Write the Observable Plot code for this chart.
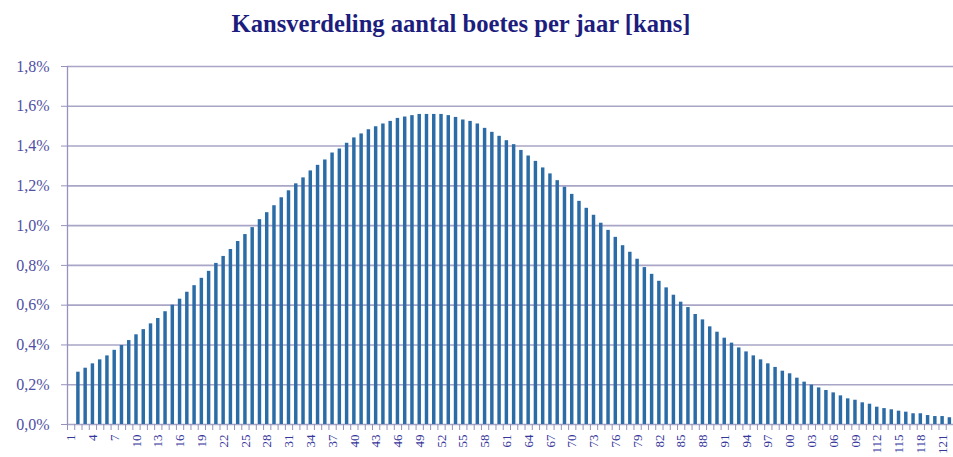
<!DOCTYPE html>
<html>
<head>
<meta charset="utf-8">
<script src="https://cdn.jsdelivr.net/npm/d3@7"></script>
<script src="https://cdn.jsdelivr.net/npm/@observablehq/plot@0.6"></script>
<style>
  html, body { margin: 0; padding: 0; background: #fff; }
  #title {
    width: 953px; height: 45px; box-sizing: border-box;
    padding-top: 12px; padding-right: 31px;
    text-align: center;
    font-family: "Liberation Serif", serif; font-weight: bold;
    font-size: 24.6px; line-height: 24px; color: #1d1d7e;
  }
  #chart svg { display: block; }
</style>
</head>
<body>
<div id="title">Kansverdeling aantal boetes per jaar [kans]</div>
<div id="chart"></div>
<script>
// Category slots (the first slot, labelled "1", carries no bar)
const categories = [
  2,3,4,5,6,7,8,9,10,11,12,13,14,15,16,17,18,19,20,21,22,23,24,25,26,27,28,29,30,31,
  32,33,34,35,36,37,38,39,40,41,42,43,44,45,46,47,48,49,50,51,52,53,54,55,56,57,58,59,60,61,
  62,63,64,65,66,67,68,69,70,71,72,73,74,75,76,77,78,79,80,81,82,83,84,85,86,87,88,89,90,91,
  92,93,94,95,96,97,98,99,100,101,102,103,104,105,106,107,108,109,110,111,112,113,114,115,116,117,118,119,120,121,122
];
// Probability in percent
const values = [
  0.263,0.283,0.305,0.325,0.345,0.373,0.397,0.422,0.451,0.477,0.506,0.533,0.567,0.600,0.630,0.665,0.698,
  0.735,0.770,0.810,0.845,0.880,0.920,0.955,0.990,1.030,1.065,1.100,1.140,1.175,1.210,
  1.240,1.275,1.303,1.330,1.365,1.385,1.414,1.441,1.461,1.482,1.497,1.511,1.524,1.539,1.546,1.553,1.559,
  1.559,1.559,1.559,1.553,1.544,1.531,1.524,1.511,1.489,1.469,1.449,1.427,1.407,1.378,1.350,1.323,1.290,
  1.260,1.226,1.193,1.157,1.122,1.087,1.052,1.012,0.976,0.941,0.899,0.866,0.831,0.789,0.755,0.720,0.687,
  0.650,0.615,0.588,0.553,0.526,0.491,0.464,0.434,0.409,0.385,
  0.365,0.345,0.325,0.305,0.287,
  0.268,0.255,0.233,0.213,0.198,0.184,0.171,0.159,0.144,0.129,0.122,0.109,0.102,0.087,0.080,0.074,
  0.067,0.062,0.054,0.054,0.045,0.040,0.040,0.034
];
const yTicks = [0, 0.2, 0.4, 0.6, 0.8, 1.0, 1.2, 1.4, 1.6, 1.8];
const labelSlots = [1,4,7,10,13,16,19,22,25,28,31,34,37,40,43,46,49,52,55,58,61,64,67,70,73,76,79,82,85,88,91,94,97,100,103,106,109,112,115,118,121];
const tickLabels = ["1","4","7","10","13","16","19","22","25","28","31","34","37","40","43","46","49","52","55","58","61","64","67","70","73","76","79","82","85","88","91","94","97","00","03","06","09","112","115","118","121"];
const boundaries = d3.range(1, 124);

const data = categories.map((c, i) => ({c, v: values[i]}));
const labels = labelSlots.map((s, i) => ({s, t: tickLabels[i]}));

const gridColor = "#a8a5c6";
const axisColor = "#9593bd";

const chart = Plot.plot({
  width: 953,
  height: 412,
  marginTop: 21,
  marginBottom: 33,
  marginLeft: 67,
  marginRight: 0,
  style: {fontFamily: "Liberation Serif, serif", background: "#fff"},
  x: {type: "linear", domain: [1, 123]},
  y: {domain: [0, 1.8]},
  marks: [
    Plot.ruleY(yTicks, {stroke: gridColor, strokeWidth: 1.6}),
    Plot.ruleX([1], {stroke: axisColor, strokeWidth: 1.3}),
    Plot.rectY(data, {x: "c", y: "v", interval: 1, insetLeft: 1.9, insetRight: 1.9, fill: "#2b6ca6"}),
    Plot.axisY({
      ticks: yTicks, tickSize: 6, tickPadding: 12,
      tickFormat: d => d.toFixed(1).replace(".", ",") + "%",
      stroke: axisColor, fill: "#4f4fa3", fontSize: 16, label: null
    }),
    Plot.axisX({
      ticks: boundaries, tickSize: 6, tickFormat: () => "",
      stroke: axisColor, label: null
    }),
    Plot.text(labels, {
      x: d => d.s + 0.5, y: 0, text: "t",
      rotate: -90, textAnchor: "end", lineAnchor: "middle", dy: 10,
      fill: "#35359a", fontSize: 13, ariaLabel: "x-labels"
    })
  ]
});
// make sure the category labels read bottom-to-top as in the reference
d3.select(chart).selectAll('g[aria-label="x-labels"] text').each(function () {
  const t = this.getAttribute("transform") || "";
  if (!/rotate/.test(t)) this.setAttribute("transform", t + " rotate(-90)");
});
document.getElementById("chart").appendChild(chart);
</script>
</body>
</html>
